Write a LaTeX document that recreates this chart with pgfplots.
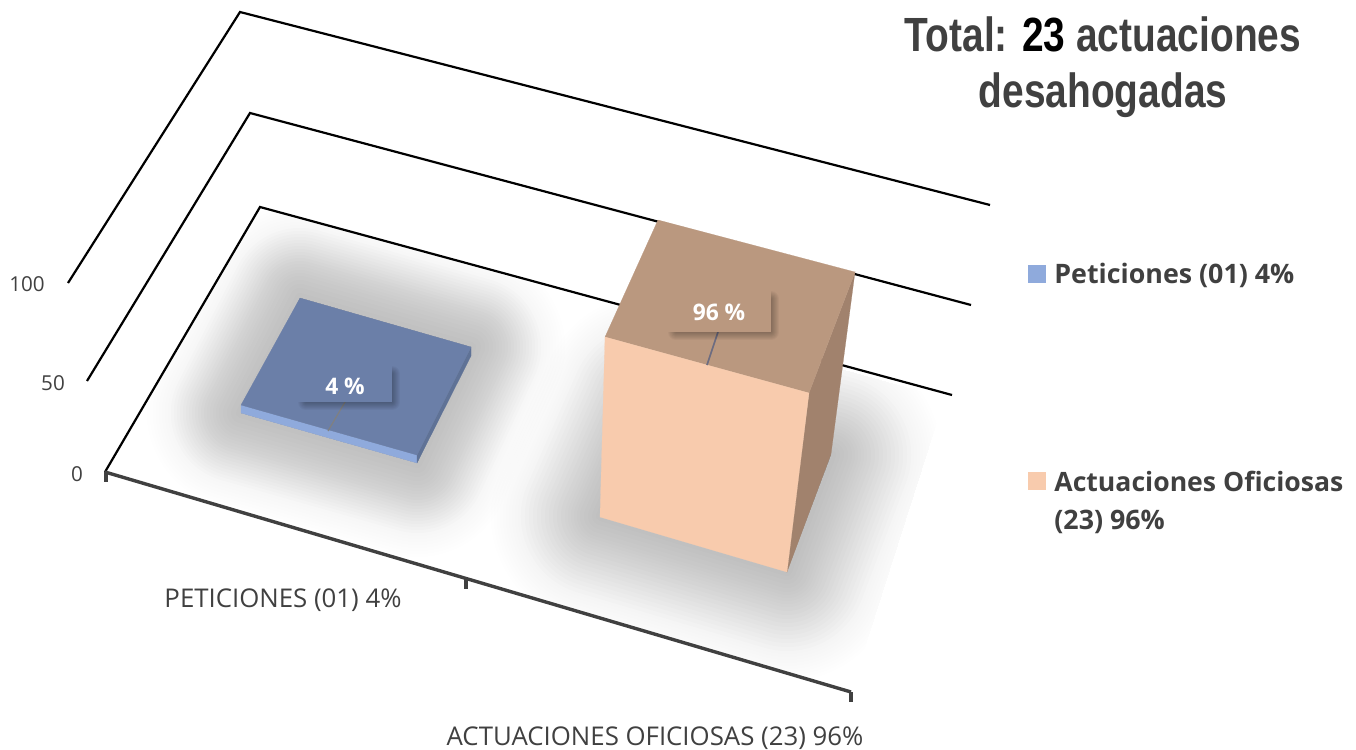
\documentclass[border=0pt]{standalone}
\usepackage{fontspec}
\usepackage{pgfplots}
\pgfplotsset{compat=1.18}
\setmainfont{Open Sans}
\newfontfamily\titlefont{Liberation Sans}
\definecolor{txt}{HTML}{404040}
\definecolor{peachF}{HTML}{F8CBAD}
\definecolor{peachT}{HTML}{BA987F}
\definecolor{peachS}{HTML}{A1826D}
\definecolor{blueT}{HTML}{6B7FA8}
\definecolor{blueF}{HTML}{8FAADC}
\definecolor{blueS}{HTML}{5F7296}
\begin{document}
\begin{tikzpicture}
\useasboundingbox (0,0) rectangle (678pt,375pt);
% soft floor shadows, in pixel coordinates of the picture
\begin{scope}[x=0.5pt,y=-0.5pt,yshift=375pt]
\clip (105,472) -- (260,207) -- (945,398) -- (851,692) -- cycle;
\foreach \d in {94,91,88,85,82,79,76,73}{
  \draw[black,fill=black,opacity=0.004,line width=\d pt,line join=round]
    (300,298) -- (471,347) -- (417,463) -- (241,413) -- cycle;
}
\foreach \d in {70,67,64,61,58,55,52,49,46,43,40,37,34,31,28,25,22,18,14,10,5}{
  \draw[black,fill=black,opacity=0.0115,line width=\d pt,line join=round]
    (300,298) -- (471,347) -- (417,463) -- (241,413) -- cycle;
}
\foreach \d in {110,107,104,101,98,95,92,89,86,83}{
  \draw[black,fill=black,opacity=0.004,line width=\d pt,line join=round]
    (650,405) -- (831,455) -- (787,571) -- (601,516) -- cycle;
}
\foreach \d in {80,76,72,68,64,60,56,52,48,44,40,36,33,30,27,24,21,17,13,9,5}{
  \draw[black,fill=black,opacity=0.0115,line width=\d pt,line join=round]
    (650,405) -- (831,455) -- (787,571) -- (601,516) -- cycle;
}
\end{scope}
\begin{axis}[
  at={(0,0)},anchor=south west,
  scale only axis,width=678pt,height=375pt,
  xmin=0,xmax=1356,ymin=0,ymax=750,y dir=reverse,
  enlargelimits=false,hide axis,clip=false,
  every axis plot/.append style={mark=none,solid},
]
% depth grid lines at 100, 50, 0
\addplot[black,line width=1.1pt] coordinates {(68,283)(240,12)(990,205)};
\addplot[black,line width=1.1pt] coordinates {(87,381)(250,113)(971,305)};
\addplot[black,line width=1.1pt] coordinates {(105,472)(260,207)(952,395)};
% category axis
\addplot[txt,line width=1.7pt] coordinates {(105,472)(851,692)};
\addplot[txt,line width=1.8pt] coordinates {(106,472)(106,482)};
\addplot[txt,line width=1.8pt] coordinates {(466,578)(466,589)};
\addplot[txt,line width=1.8pt] coordinates {(851,692)(851,702)};
% Peticiones, 4 %
\addplot[draw=blueF,fill=blueF,line width=0.1pt] coordinates {(241,405)(417,455)(417,463)(241,413)} -- cycle;
\addplot[draw=blueS,fill=blueS,line width=0.1pt] coordinates {(471,347)(471,356)(417,463)(417,455)} -- cycle;
\addplot[draw=blueT,fill=blueT,line width=0.1pt] coordinates {(300,298)(471,347)(417,455)(241,405)} -- cycle;
% Actuaciones Oficiosas, 96 %
\addplot[draw=peachS,fill=peachS,line width=0.1pt] coordinates {(855,272)(809,393)(787,572)(831,454)} -- cycle;
\addplot[draw=peachT,fill=peachT,line width=0.1pt] coordinates {(658,220)(855,272)(809,393)(605,337)} -- cycle;
\addplot[draw=peachF,fill=peachF,line width=0.1pt] coordinates {(605,337)(809,393)(787,572)(600,517)} -- cycle;
% leaders
\addplot[color=gray,line width=0.6pt] coordinates {(345,402)(328,431)};
\addplot[color=black!45!blue!15!gray,line width=0.8pt] coordinates {(718,332)(707,365)};
% label shadows
\pgfplotsinvokeforeach{8,7,6,5,4,3,2,1}{
  \addplot[draw=black,fill=black,opacity=0.035,line width=#1pt,line join=round] coordinates {(306,374)(392,374)(392,402)(306,402)} -- cycle;
  \addplot[draw=black,fill=black,opacity=0.035,line width=#1pt,line join=round] coordinates {(676,299)(771,299)(771,332)(676,332)} -- cycle;
}
% label boxes
\addplot[draw=none,fill=blueT] coordinates {(297,365)(392,365)(392,402)(297,402)} -- cycle;
\addplot[draw=none,fill=peachT] coordinates {(667,290)(771,290)(771,332)(667,332)} -- cycle;
% legend keys
\addplot[draw=none,fill=blueF] coordinates {(1028,265)(1046,265)(1046,283)(1028,283)} -- cycle;
\addplot[draw=none,fill=peachF] coordinates {(1028,472)(1046,472)(1046,490)(1028,490)} -- cycle;
% texts
\node[white,font=\fontsize{11.4}{13}\selectfont\bfseries] at (axis cs:345,386) {4 \%};
\node[white,font=\fontsize{11.4}{13}\selectfont\bfseries] at (axis cs:719,312) {96 \%};
\node[txt,font=\fontsize{10.3}{12}\selectfont] at (axis cs:27,284) {100};
\node[txt,font=\fontsize{10.3}{12}\selectfont] at (axis cs:53,383) {50};
\node[txt,font=\fontsize{10.3}{12}\selectfont] at (axis cs:77,474) {0};
\node[txt,font=\fontsize{12.9}{15}\selectfont] at (axis cs:283,600) {PETICIONES (01) 4\%};
\node[txt,font=\fontsize{12.9}{15}\selectfont] at (axis cs:655,738) {ACTUACIONES OFICIOSAS (23) 96\%};
\node[txt,anchor=west,inner sep=0pt,font=\fontsize{13.4}{15}\selectfont\bfseries] at (axis cs:1054,275) {Peticiones (01) 4\%};
\node[txt,anchor=west,inner sep=0pt,font=\fontsize{13.3}{15}\selectfont\bfseries] at (axis cs:1054,481) {Actuaciones Oficiosas};
\node[txt,anchor=west,inner sep=0pt,font=\fontsize{13.4}{15}\selectfont\bfseries] at (axis cs:1054,522) {(23) 96\%};
\node[txt,inner sep=0pt,font=\fontsize{24}{28}\selectfont\titlefont\bfseries] at (axis cs:1103,34) {\scalebox{0.81}[1]{Total: \textcolor{black}{23} actuaciones}};
\node[txt,inner sep=0pt,font=\fontsize{24}{28}\selectfont\titlefont\bfseries] at (axis cs:1103,95) {\scalebox{0.81}[1]{desahogadas}};
\end{axis}
\end{tikzpicture}
\end{document}
